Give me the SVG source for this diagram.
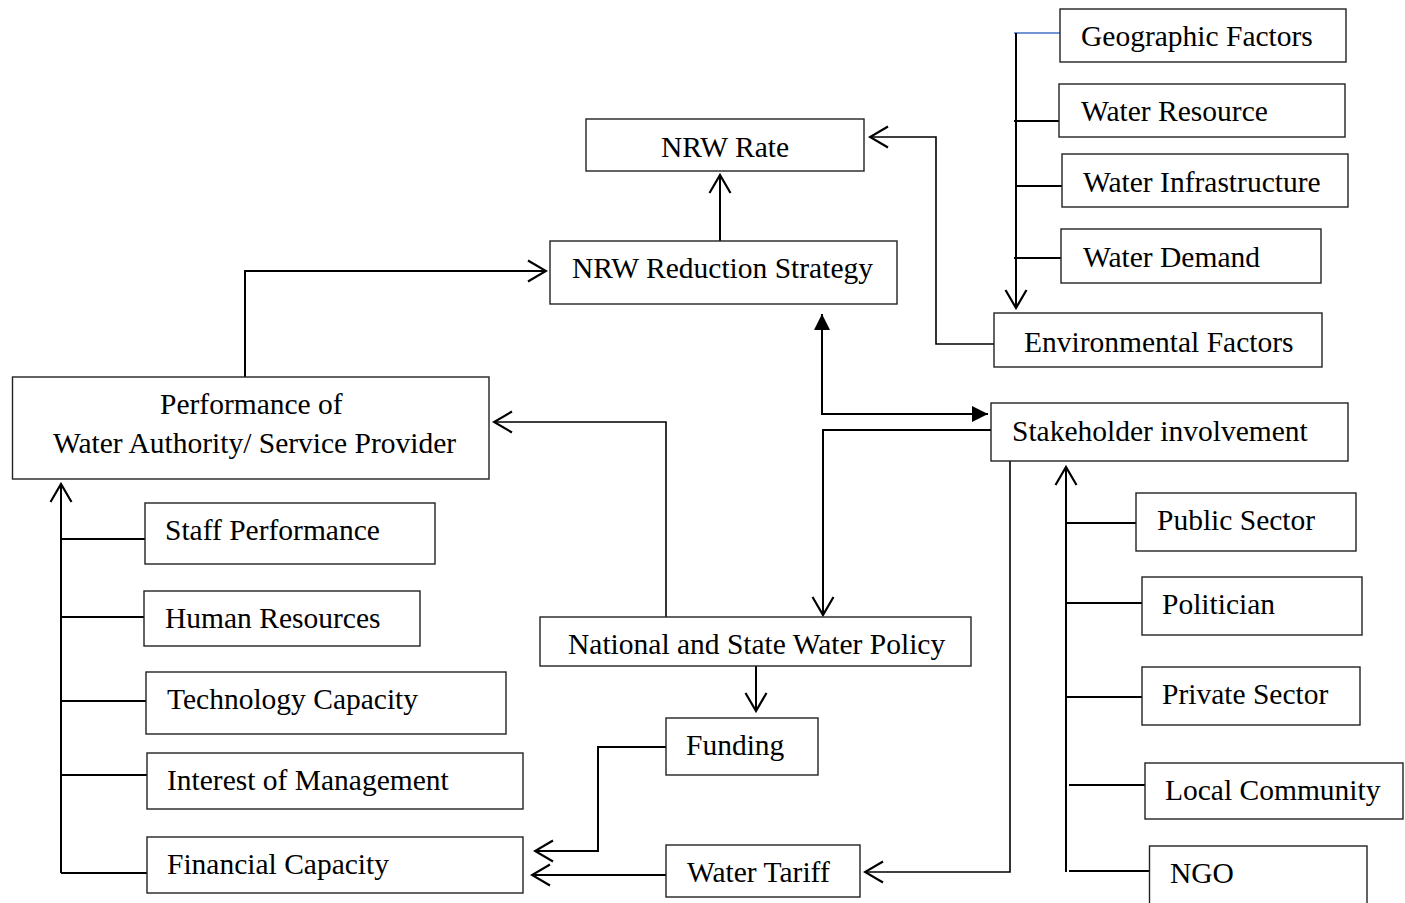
<svg xmlns="http://www.w3.org/2000/svg" width="1405" height="903" viewBox="0 0 1405 903">
<style>
.box{fill:#fff;stroke:#222;stroke-width:1.4}
.lbl{font-family:"Liberation Serif","Times New Roman",serif;font-size:29.5px;fill:#000}
.c{fill:none;stroke:#000;stroke-width:2}
.t{fill:none;stroke:#000;stroke-width:1.6}
.oa{marker-end:url(#open)}
</style>
<defs>
<marker id="open" markerUnits="userSpaceOnUse" markerWidth="22" markerHeight="26" viewBox="0 0 22 26" refX="20" refY="13" orient="auto">
<path d="M2,2.5 L20,13 L2,23.5" fill="none" stroke="#000" stroke-width="2.2"/>
</marker>
<marker id="fill" markerUnits="userSpaceOnUse" markerWidth="16" markerHeight="16" viewBox="0 0 16 16" refX="16" refY="8" orient="auto-start-reverse">
<path d="M0,0 L16,8 L0,16 z" fill="#000"/>
</marker>
</defs>
<rect width="1405" height="903" fill="#fff"/>
<g id="connectors">
<line x1="1014" y1="33" x2="1062" y2="33" stroke="#4472C4" stroke-width="1.6"/>
<path class="c oa" d="M1016,33 V308"/>
<path class="c" d="M1014,121 H1063 M1016,186 H1062 M1014,258 H1062"/>
<path class="t oa" d="M994,344 H936 V137 H870"/>
<path class="c oa" d="M720,241 V175"/>
<path class="c oa" d="M245,377 V271 H546"/>
<path class="c" d="M822,314 V414 H988" marker-start="url(#fill)" marker-end="url(#fill)"/>
<path class="c oa" d="M992,430 H823 V615"/>
<path class="t oa" d="M666,617 V422 H494"/>
<path class="c oa" d="M756,666 V711"/>
<path class="c oa" d="M666,747 H598 V851 H535"/>
<path class="c oa" d="M666,875 H532"/>
<path class="t oa" d="M1010,461 V872 H865"/>
<path class="c oa" d="M1066,872 V467"/>
<path class="c" d="M1066,523 H1136 M1066,603 H1142 M1066,697 H1142 M1069,785 H1145 M1069,871 H1149"/>
<path class="c oa" d="M61,873 V484"/>
<path class="c" d="M61,539 H145 M61,617 H144 M61,701 H146 M61,775 H147 M61,873 H147"/>
</g>
<g id="geo"><rect class="box" x="1060" y="9" width="286" height="53"/><text class="lbl" x="1081" y="46">Geographic Factors</text></g>
<g id="wres"><rect class="box" x="1059" y="84" width="286" height="53"/><text class="lbl" x="1081" y="121">Water Resource</text></g>
<g id="winf"><rect class="box" x="1062" y="154" width="286" height="53"/><text class="lbl" x="1083" y="192">Water Infrastructure</text></g>
<g id="wdem"><rect class="box" x="1061" y="229" width="260" height="54"/><text class="lbl" x="1083" y="267">Water Demand</text></g>
<g id="env"><rect class="box" x="994" y="313" width="328" height="54"/><text class="lbl" x="1024" y="352">Environmental Factors</text></g>
<g id="nrwrate"><rect class="box" x="586" y="119" width="278" height="52"/><text class="lbl" x="661" y="157">NRW Rate</text></g>
<g id="nrwred"><rect class="box" x="550" y="241" width="347" height="63"/><text class="lbl" x="572" y="278">NRW Reduction Strategy</text></g>
<g id="perf"><rect class="box" x="12.5" y="377" width="476.5" height="102"/><text class="lbl" x="160" y="414">Performance of</text><text class="lbl" x="53" y="453">Water Authority/ Service Provider</text></g>
<g id="staff"><rect class="box" x="145" y="503" width="290" height="61"/><text class="lbl" x="165" y="540">Staff Performance</text></g>
<g id="hr"><rect class="box" x="144" y="591" width="276" height="55"/><text class="lbl" x="165" y="628">Human Resources</text></g>
<g id="tech"><rect class="box" x="146" y="672" width="360" height="62"/><text class="lbl" x="167" y="709">Technology Capacity</text></g>
<g id="interest"><rect class="box" x="147" y="753" width="376" height="56"/><text class="lbl" x="167" y="790">Interest of Management</text></g>
<g id="financial"><rect class="box" x="147" y="837" width="376" height="56"/><text class="lbl" x="167" y="874">Financial Capacity</text></g>
<g id="policy"><rect class="box" x="540" y="617" width="431" height="49"/><text class="lbl" x="568" y="654">National and State Water Policy</text></g>
<g id="funding"><rect class="box" x="666" y="718" width="152" height="57"/><text class="lbl" x="686" y="755">Funding</text></g>
<g id="tariff"><rect class="box" x="666" y="845" width="194" height="52"/><text class="lbl" x="687" y="882">Water Tariff</text></g>
<g id="stake"><rect class="box" x="991" y="403" width="357" height="58"/><text class="lbl" x="1012" y="441">Stakeholder involvement</text></g>
<g id="public"><rect class="box" x="1136" y="493" width="220" height="58"/><text class="lbl" x="1157" y="530">Public Sector</text></g>
<g id="politician"><rect class="box" x="1142" y="577" width="220" height="58"/><text class="lbl" x="1162" y="614">Politician</text></g>
<g id="private"><rect class="box" x="1142" y="667" width="218" height="58"/><text class="lbl" x="1162" y="704">Private Sector</text></g>
<g id="local"><rect class="box" x="1145" y="763" width="258" height="56"/><text class="lbl" x="1165" y="800">Local Community</text></g>
<g id="ngo"><rect class="box" x="1149.5" y="846" width="217.5" height="70"/><text class="lbl" x="1170" y="883">NGO</text></g>
</svg>
